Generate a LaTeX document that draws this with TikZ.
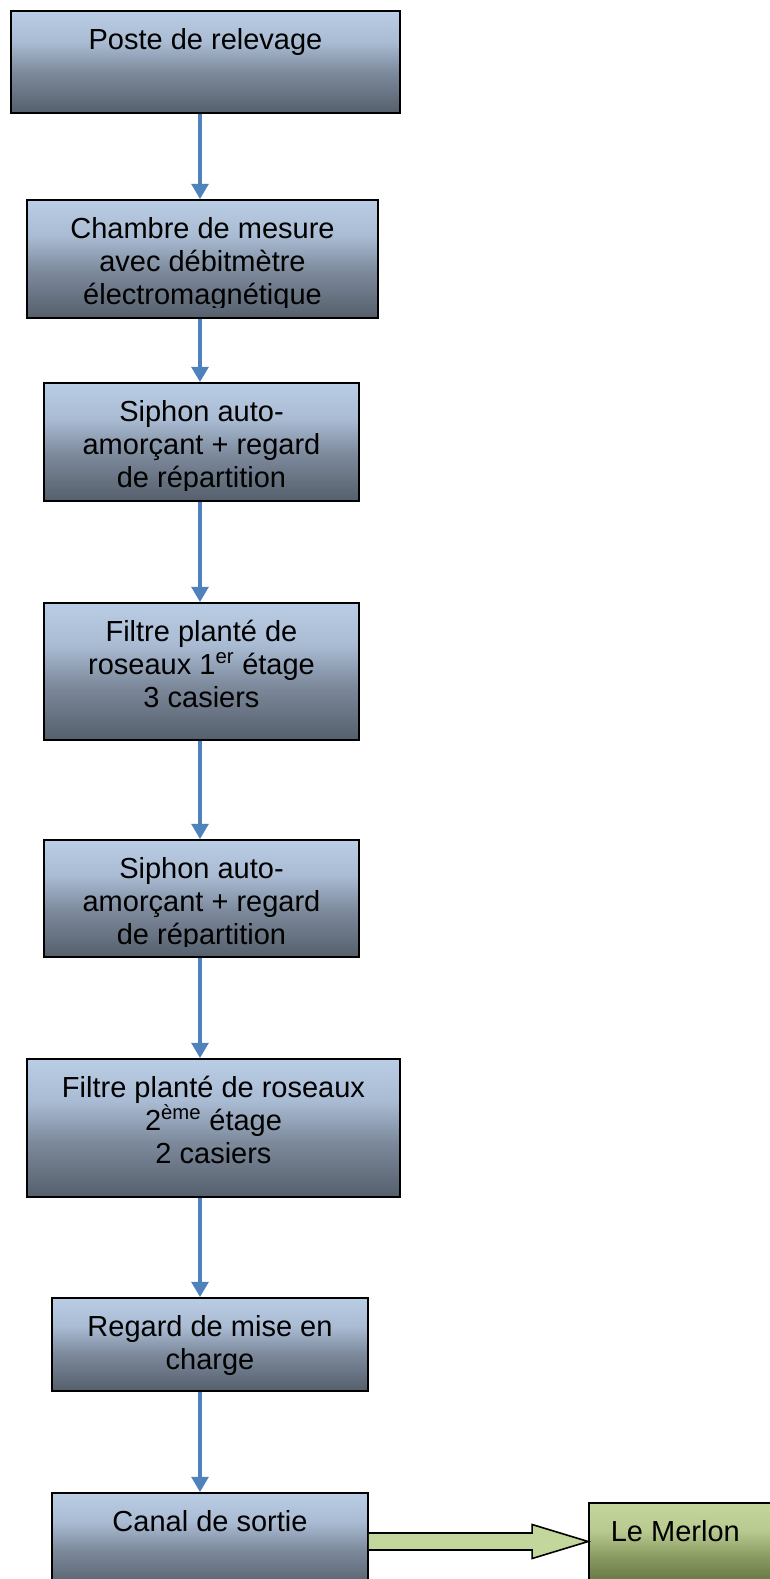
\documentclass[tikz,border=0pt]{standalone}
\usepackage{fontspec}
\setmainfont{Liberation Sans}
\usetikzlibrary{arrows.meta,calc}

\definecolor{bluetop}{RGB}{185,205,229}
\definecolor{bluehigh}{RGB}{170,188,212}
\definecolor{bluemid}{RGB}{125,138,156}
\definecolor{bluebot}{RGB}{85,95,108}
\definecolor{greentop}{RGB}{195,214,155}
\definecolor{greenhigh}{RGB}{185,202,145}
\definecolor{greenmid}{RGB}{135,152,95}
\definecolor{greenbot}{RGB}{85,100,55}
\definecolor{flowblue}{RGB}{79,129,189}

\pgfdeclareverticalshading{blueshade}{100bp}{color(0bp)=(bluebot); color(25bp)=(bluebot); color(45bp)=(bluemid); color(60bp)=(bluehigh); color(75bp)=(bluetop); color(100bp)=(bluetop)}
\pgfdeclareverticalshading{greenshade}{100bp}{color(0bp)=(greenbot); color(25bp)=(greenbot); color(45bp)=(greenmid); color(60bp)=(greenhigh); color(75bp)=(greentop); color(100bp)=(greentop)}

\tikzset{
  boxtext/.style={anchor=base, inner sep=0pt},
  proc/.style={draw=black, line width=1.3pt, shading=blueshade,
    path picture={
      \clip ([yshift=7.9pt]path picture bounding box.south west) rectangle (path picture bounding box.north east);
      \node[boxtext] at ([yshift=-28.5pt]path picture bounding box.north) {\parbox[t]{8cm}{\centering #1}};}},
  sink/.style={draw=black, line width=1.3pt, shading=greenshade,
    path picture={
      \node[boxtext, anchor=base west] at ([xshift=15.75pt, yshift=-28.5pt]path picture bounding box.north west) {\parbox[t]{5cm}{\raggedright #1}};}},
  flow/.style={draw=flowblue, line width=3.5pt, -{Triangle[length=11.5pt,width=12.5pt]}},
  bigarrow/.style={draw=black, line width=1.2pt, fill=greentop, line join=miter}
}

\begin{document}
\begin{tikzpicture}[x=0.75pt, y=-0.75pt, font=\fontsize{21.75}{24.75}\selectfont]
  \useasboundingbox (0,0) rectangle (770,1579);
  \clip (0,0) rectangle (770,1579);
  \fill[white] (0,0) rectangle (770,1579);

  % boxes
  \node[proc={Poste de relevage}, minimum width=291.75pt, minimum height=76.5pt] (poste) at (205.5,62) {};
  \node[proc={Chambre de mesure\\avec débitmètre\\électromagnétique}, minimum width=263.25pt, minimum height=88.5pt] (chambre) at (202.5,259) {};
  \node[proc={Siphon auto-\\amorçant + regard\\de répartition}, minimum width=236.25pt, minimum height=88.5pt] (siphonA) at (201.5,442) {};
  \node[proc={Filtre planté de\\roseaux 1\textsuperscript{er} étage\\3 casiers}, minimum width=236.25pt, minimum height=102.75pt] (filtreA) at (201.5,671.5) {};
  \node[proc={Siphon auto-\\amorçant + regard\\de répartition}, minimum width=236.25pt, minimum height=87.75pt] (siphonB) at (201.5,898.5) {};
  \node[proc={Filtre planté de roseaux\\2\textsuperscript{ème} étage\\2 casiers}, minimum width=279.75pt, minimum height=103.5pt] (filtreB) at (213.5,1128) {};
  \node[proc={Regard de mise en\\charge}, minimum width=237pt, minimum height=69.75pt] (regard) at (210,1344.5) {};
  \node[proc={Canal de sortie}, minimum width=237pt, minimum height=71.25pt] (canal) at (210,1540.5) {};
  \node[sink={Le Merlon}, minimum width=139.5pt, minimum height=69pt] (merlon) at (682,1549) {};

  % flow down the line
  \coordinate (axis) at (200,0);
  \draw[flow] (poste.south -| axis) -- (chambre.north -| axis);
  \draw[flow] (chambre.south -| axis) -- (siphonA.north -| axis);
  \draw[flow] (siphonA.south -| axis) -- (filtreA.north -| axis);
  \draw[flow] (filtreA.south -| axis) -- (siphonB.north -| axis);
  \draw[flow] (siphonB.south -| axis) -- (filtreB.north -| axis);
  \draw[flow] (filtreB.south -| axis) -- (regard.north -| axis);
  \draw[flow] (regard.south -| axis) -- (canal.north -| axis);

  % outlet
  \coordinate (gtip) at (merlon.west |- 0,1541.5);
  \coordinate (gtail) at (canal.east |- gtip);
  \draw[bigarrow] ($(gtail)+(0,-8.5)$) -- ($(gtip)+(-56,-8.5)$) -- ($(gtip)+(-56,-17)$) -- (gtip)
    -- ($(gtip)+(-56,17)$) -- ($(gtip)+(-56,8.5)$) -- ($(gtail)+(0,8.5)$);
\end{tikzpicture}
\end{document}
